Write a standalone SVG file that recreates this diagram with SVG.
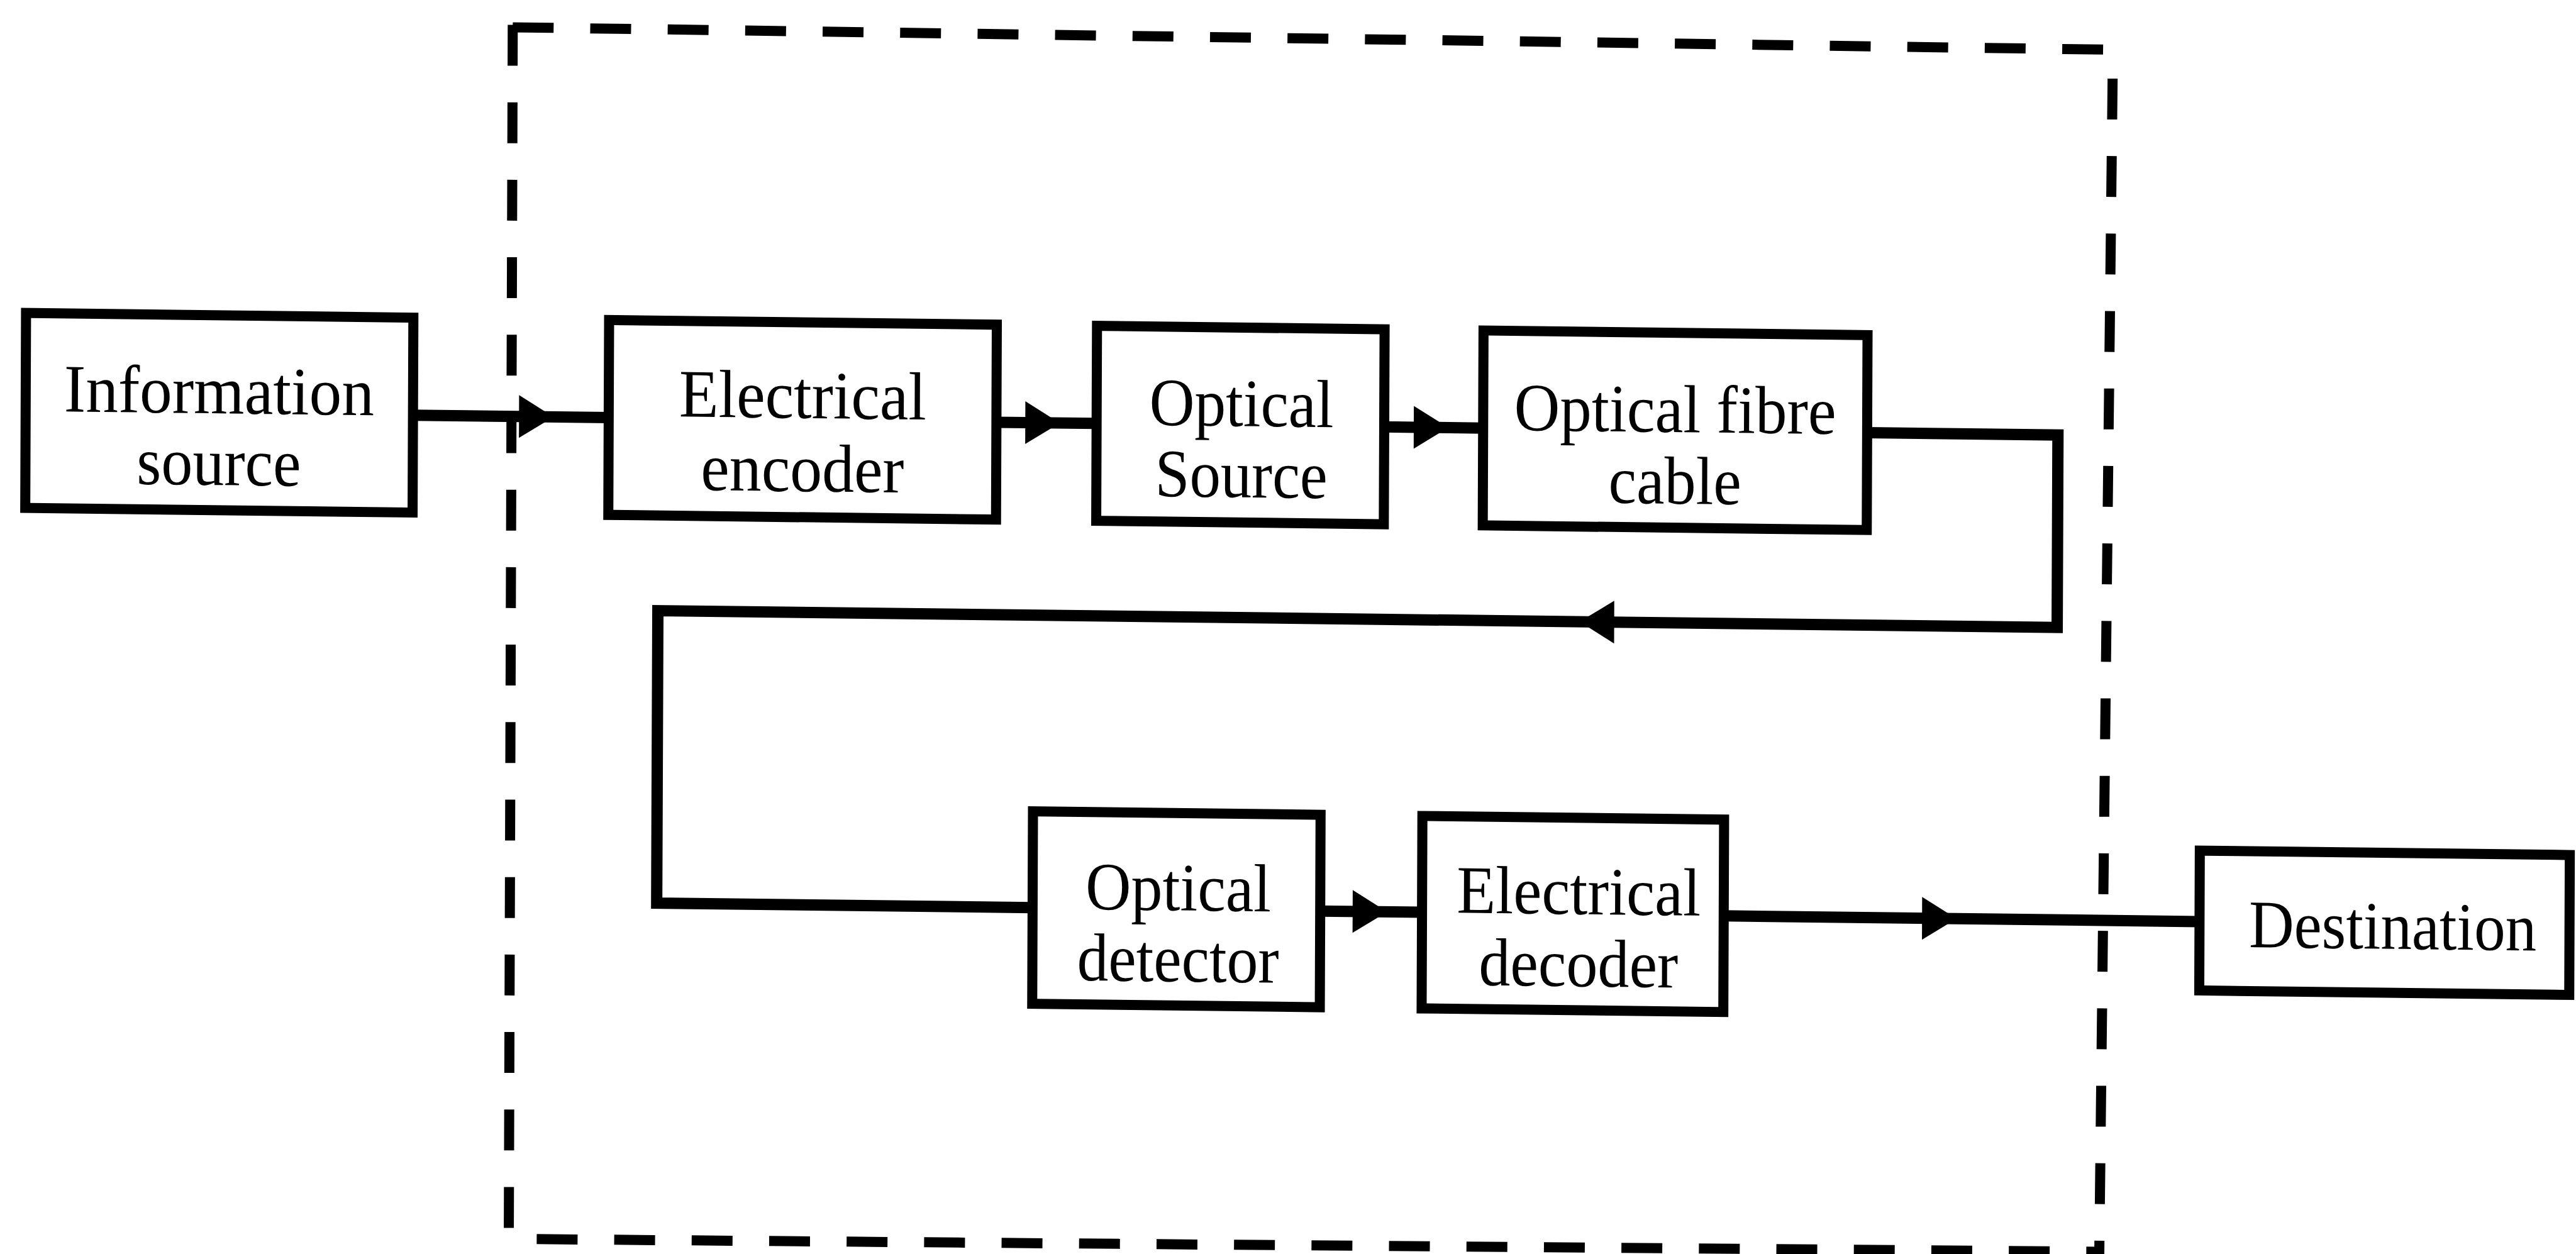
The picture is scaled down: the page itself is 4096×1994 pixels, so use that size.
<svg xmlns="http://www.w3.org/2000/svg" width="4096" height="1994" viewBox="0 0 4096 1994">
<style>
.box{fill:#fff;stroke:#000;stroke-width:16;stroke-linejoin:miter}
.lbl{font-family:"Liberation Serif","Times New Roman",serif;font-size:108px;fill:#000;text-anchor:middle}
.wire{fill:none;stroke:#000;stroke-width:18;stroke-linejoin:miter}
.dash{fill:none;stroke:#000;stroke-width:16;stroke-dasharray:65 58.2}
</style>
<defs>
<path id="ah" d="M-55,-34 L0,0 L-55,34 Z" fill="#000"/>
</defs>
<rect width="4096" height="1994" fill="#fff"/>
<g id="boundary">
<line class="dash" x1="815.3" y1="43.4" x2="3355.8" y2="79"/>
<line class="dash" x1="815.3" y1="39.5" x2="809" y2="1970"/>
<line class="dash" x1="3359.7" y1="79" x2="3338" y2="1994" stroke-dashoffset="77.2"/>
<line class="dash" x1="809" y1="1970" x2="3338" y2="1990.5" stroke-dashoffset="78.8"/>
</g>
<g transform="matrix(1 0.012 -0.004 1 3.98 -24.56)">
<g id="connectors">
<line class="wire" x1="655.4" y1="677" x2="966.6" y2="677"/>
<use href="#ah" x="879" y="677"/>
<line class="wire" x1="1583.1" y1="677" x2="1742.4" y2="677"/>
<use href="#ah" x="1684" y="677"/>
<line class="wire" x1="2199.7" y1="677" x2="2357" y2="677"/>
<use href="#ah" x="2301.7" y="677"/>
<polyline class="wire" points="2967.6,677 3271,677 3271,983 1046,983 1046,1448 1643.7,1448"/>
<use href="#ah" transform="translate(2511.6 983) rotate(180)"/>
<line class="wire" x1="2101" y1="1448" x2="2262.9" y2="1448"/>
<use href="#ah" x="2207.6" y="1448"/>
<line class="wire" x1="2742.5" y1="1448" x2="3499.2" y2="1448"/>
<use href="#ah" x="3113" y="1448"/>
</g>
<g id="node-information-source">
<rect class="box" x="39.5" y="521.8" width="615.9" height="309.9"/>
<text class="lbl" x="347" y="677.7" textLength="493" lengthAdjust="spacingAndGlyphs">Information</text>
<text class="lbl" x="347" y="791.6" textLength="261" lengthAdjust="spacingAndGlyphs">source</text>
</g>
<g id="node-electrical-encoder">
<rect class="box" x="966.6" y="521.8" width="616.5" height="309.9"/>
<text class="lbl" x="1275" y="674" textLength="393" lengthAdjust="spacingAndGlyphs">Electrical</text>
<text class="lbl" x="1275" y="790.5" textLength="323" lengthAdjust="spacingAndGlyphs">encoder</text>
</g>
<g id="node-optical-source">
<rect class="box" x="1742.4" y="521.8" width="457.3" height="309.9"/>
<text class="lbl" x="1972.7" y="678.4" textLength="293" lengthAdjust="spacingAndGlyphs">Optical</text>
<text class="lbl" x="1972.7" y="791.6" textLength="274" lengthAdjust="spacingAndGlyphs">Source</text>
</g>
<g id="node-optical-fibre-cable">
<rect class="box" x="2357" y="521.8" width="610.6" height="309.9"/>
<text class="lbl" x="2662.3" y="679.7" textLength="512" lengthAdjust="spacingAndGlyphs">Optical fibre</text>
<text class="lbl" x="2662.3" y="793.5" textLength="211" lengthAdjust="spacingAndGlyphs">cable</text>
</g>
<g id="node-optical-detector">
<rect class="box" x="1643.7" y="1294.9" width="457.3" height="306"/>
<text class="lbl" x="1875.3" y="1449.6" textLength="295" lengthAdjust="spacingAndGlyphs">Optical</text>
<text class="lbl" x="1875.3" y="1562.8" textLength="321" lengthAdjust="spacingAndGlyphs">detector</text>
</g>
<g id="node-electrical-decoder">
<rect class="box" x="2262.9" y="1294.9" width="479.7" height="306"/>
<text class="lbl" x="2512" y="1448" textLength="388" lengthAdjust="spacingAndGlyphs">Electrical</text>
<text class="lbl" x="2512" y="1562.8" textLength="317" lengthAdjust="spacingAndGlyphs">decoder</text>
</g>
<g id="node-destination">
<rect class="box" x="3499.2" y="1335.1" width="588.3" height="222.4"/>
<text class="lbl" x="3806.5" y="1487.7" textLength="457" lengthAdjust="spacingAndGlyphs">Destination</text>
</g>
</g>
</svg>
